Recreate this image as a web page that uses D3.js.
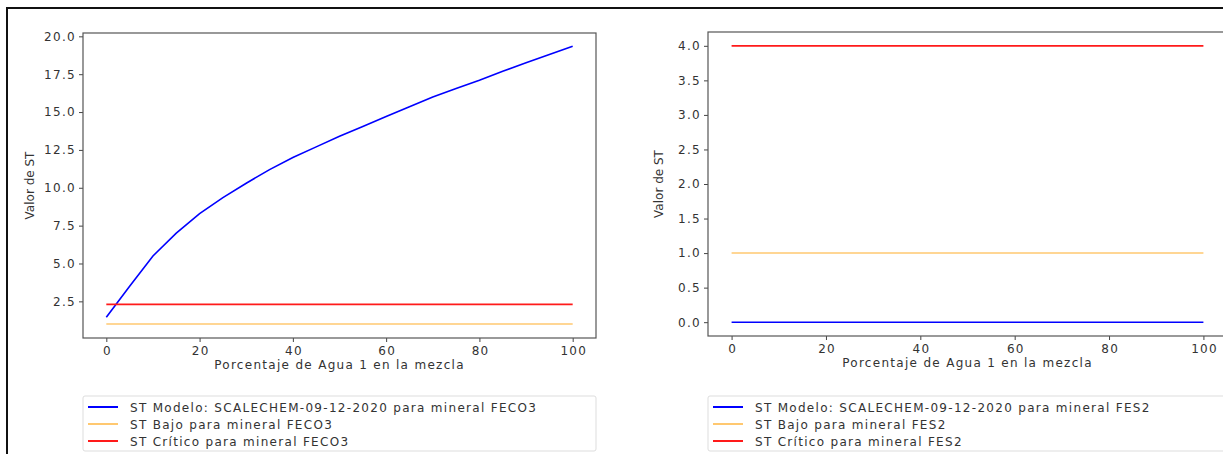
<!DOCTYPE html>
<html>
<head>
    <script src="https://d3js.org/d3.v7.min.js"></script>
    <style>
        body { margin: 0; background: white; }
        text { font-family: "DejaVu Sans", sans-serif; fill: #333; }
        .wide { letter-spacing: 1.3px; }
    </style>
</head>
<body>
<div id="grafico"></div>
<script>
    // data
    var pct = [0, 5, 10, 15, 20, 25, 30, 35, 40, 45, 50, 55, 60, 65, 70, 75, 80, 85, 90, 95, 100];
    var stFeco3 = [1.45, 3.5, 5.5, 7.0, 8.3, 9.35, 10.3, 11.2, 12.0, 12.7, 13.4, 14.05,
                   14.7, 15.35, 16.0, 16.55, 17.1, 17.7, 18.25, 18.8, 19.35];
    var bajoFeco3 = 1.0, criticoFeco3 = 2.3;
    var stFes2 = [0, 0, 0, 0, 0, 0, 0, 0, 0, 0, 0, 0, 0, 0, 0, 0, 0, 0, 0, 0, 0];
    var bajoFes2 = 1.0, criticoFes2 = 4.0;
    var xTicks = [0, 20, 40, 60, 80, 100];
    var yTicksLeft = [2.5, 5.0, 7.5, 10.0, 12.5, 15.0, 17.5, 20.0];
    var yTicksRight = [0.0, 0.5, 1.0, 1.5, 2.0, 2.5, 3.0, 3.5, 4.0];
    var legendLeft = ["ST Modelo: SCALECHEM-09-12-2020 para mineral FECO3",
                      "ST Bajo para mineral FECO3",
                      "ST Crítico para mineral FECO3"];
    var legendRight = ["ST Modelo: SCALECHEM-09-12-2020 para mineral FES2",
                       "ST Bajo para mineral FES2",
                       "ST Crítico para mineral FES2"];
    var colors = ["#0000ff", "#ffc870", "#ff1a1a"];

    var W = 1223, H = 454;
    var svg = d3.select("#grafico").append("svg")
        .attr("width", W).attr("height", H);

    // outer frame (right and bottom fall outside the picture)
    svg.append("rect")
        .attr("x", 7).attr("y", 8).attr("width", 1240).attr("height", 480)
        .attr("fill", "none").attr("stroke", "#111").attr("stroke-width", 2);

    function panel(cfg) {
        var g = svg.append("g");
        var x = d3.scaleLinear().domain([-5, 105]).range([cfg.left, cfg.right]);
        var y = d3.scaleLinear().domain(cfg.ydom).range([cfg.bottom, cfg.top]);

        // axes
        g.append("g")
            .attr("transform", "translate(0," + cfg.bottom + ")")
            .call(d3.axisBottom(x).tickValues(xTicks).tickFormat(d3.format("d")).tickSize(4).tickPadding(4))
            .call(function(s) { s.select(".domain").remove(); })
            .selectAll("text").attr("class", "wide").attr("dx", "0.65px").style("font-size", "12px");
        g.append("g")
            .attr("transform", "translate(" + cfg.left + ",0)")
            .call(d3.axisLeft(y).tickValues(cfg.yticks).tickFormat(d3.format(".1f")).tickSize(4).tickPadding(3))
            .call(function(s) { s.select(".domain").remove(); })
            .selectAll("text").attr("class", "wide").style("font-size", "12px");
        g.selectAll(".tick line").attr("stroke", "#444");

        // box
        g.append("rect")
            .attr("x", cfg.left).attr("y", cfg.top)
            .attr("width", cfg.right - cfg.left).attr("height", cfg.bottom - cfg.top)
            .attr("fill", "none").attr("stroke", "#555").attr("stroke-width", 1.2);

        // series
        var line = d3.line().x(function(d, i) { return x(pct[i]); }).y(function(d) { return y(d); });
        g.append("path").datum(pct.map(function() { return cfg.bajo; }))
            .attr("d", line).attr("fill", "none").attr("stroke", colors[1]).attr("stroke-width", 1.5);
        g.append("path").datum(cfg.st)
            .attr("d", line).attr("fill", "none").attr("stroke", colors[0]).attr("stroke-width", 1.6);
        g.append("path").datum(pct.map(function() { return cfg.critico; }))
            .attr("d", line).attr("fill", "none").attr("stroke", colors[2]).attr("stroke-width", 1.8);

        // labels
        g.append("text")
            .attr("class", "wide")
            .attr("x", (x(0) + x(100)) / 2).attr("y", cfg.bottom + 31)
            .attr("text-anchor", "middle").style("font-size", "12px")
            .text("Porcentaje de Agua 1 en la mezcla");
        g.append("text")
            .attr("transform", "translate(" + cfg.ylabX + "," + ((cfg.top + cfg.bottom) / 2) + ") rotate(-90)")
            .attr("text-anchor", "middle").style("font-size", "12px")
            .text("Valor de ST");

        // legend
        var lg = g.append("g").attr("transform", "translate(" + cfg.left + ",396)");
        lg.append("rect")
            .attr("width", cfg.legW).attr("height", 55).attr("rx", 2)
            .attr("fill", "white").attr("stroke", "#ddd");
        cfg.legend.forEach(function(t, i) {
            lg.append("line")
                .attr("x1", 5).attr("x2", 35).attr("y1", 11 + i * 17).attr("y2", 11 + i * 17)
                .attr("stroke", colors[i]).attr("stroke-width", 2);
            lg.append("text")
                .attr("class", "wide")
                .attr("x", 47).attr("y", 15.5 + i * 17)
                .style("font-size", "12px").text(t);
        });
    }

    panel({left: 83, right: 596, top: 33, bottom: 338, ydom: [0.08, 20.22],
           yticks: yTicksLeft, st: stFeco3, bajo: bajoFeco3, critico: criticoFeco3,
           legend: legendLeft, legW: 513, ylabX: 34});
    panel({left: 708, right: 1227, top: 32, bottom: 336, ydom: [-0.2, 4.2],
           yticks: yTicksRight, st: stFes2, bajo: bajoFes2, critico: criticoFes2,
           legend: legendRight, legW: 530, ylabX: 663});
</script>
</body>
</html>
